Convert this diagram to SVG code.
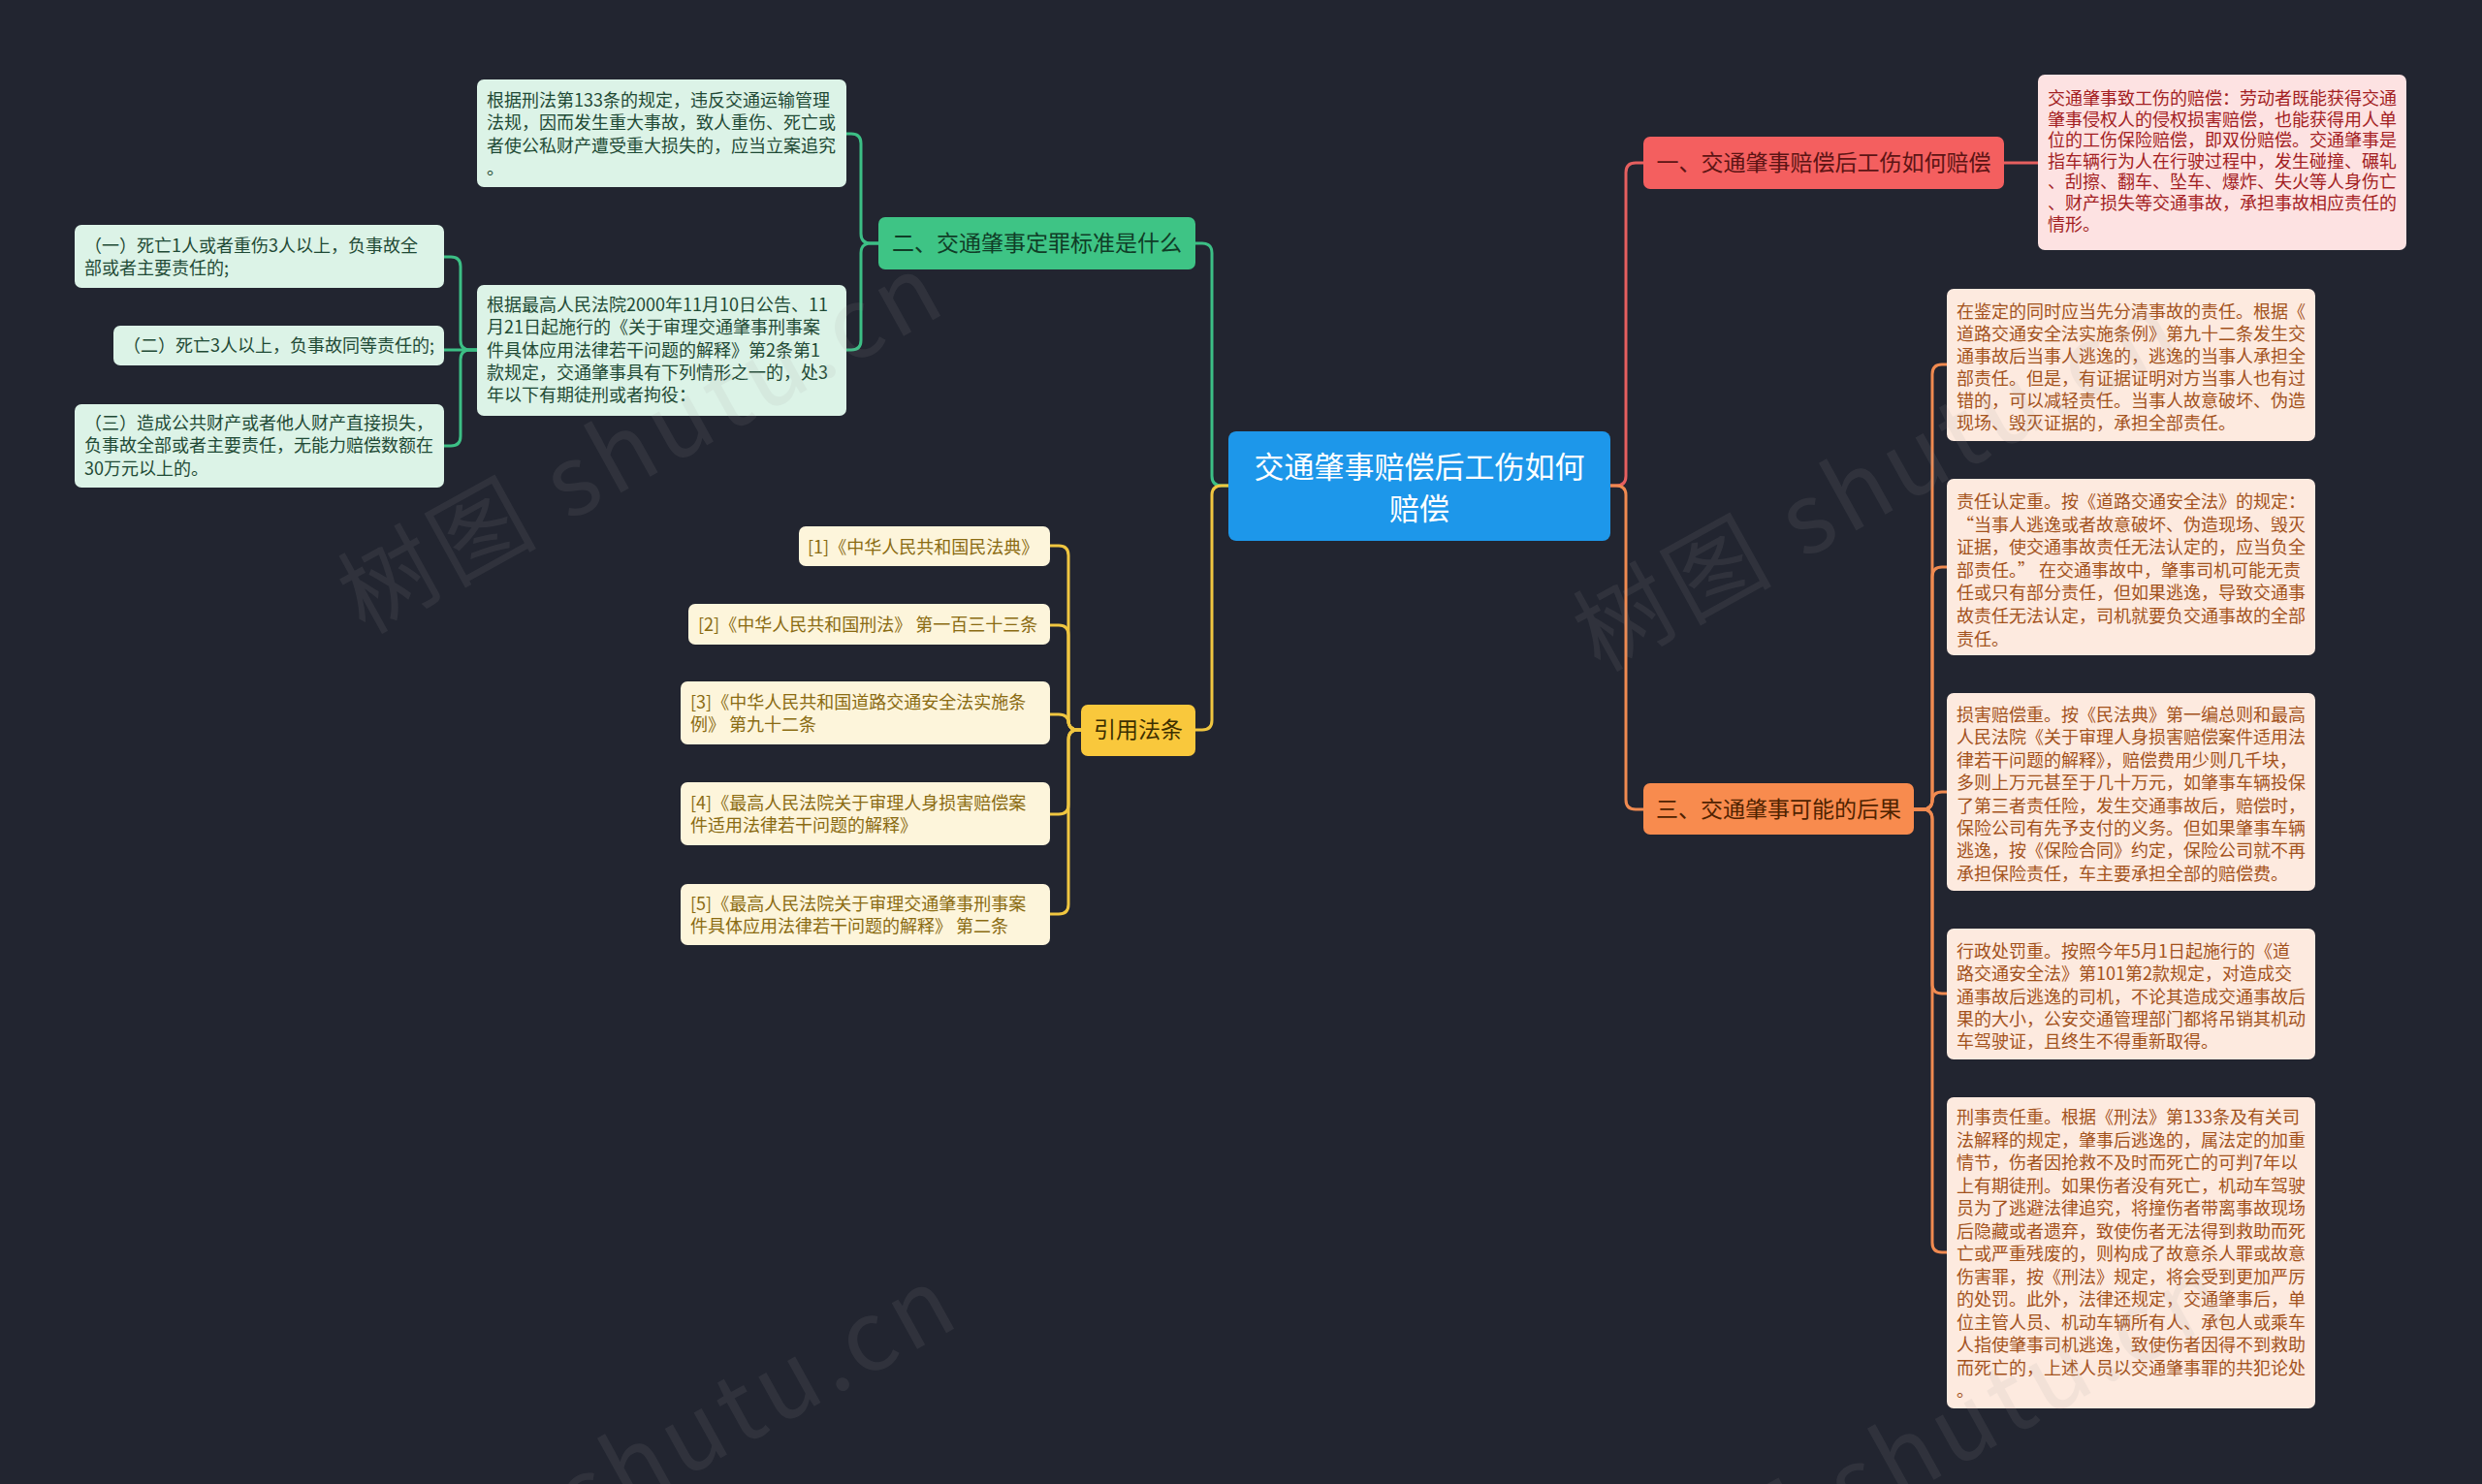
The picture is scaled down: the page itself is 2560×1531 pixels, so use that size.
<svg xmlns="http://www.w3.org/2000/svg" width="2560" height="1531" viewBox="0 0 2560 1531">
<style>
text{font-family:"Noto Sans CJK SC","Noto Sans",sans-serif;}
.c{fill:none;stroke-width:3;stroke-linecap:round;stroke-linejoin:round}
.cr{stroke:#e65f5f}.cg{stroke:#3cbf85}.cy{stroke:#f0c640}.co{stroke:#f08a50}
.t18{font-size:18px}
.gd{fill:#dcf3e7}.gt{fill:#1f4a35}
.yd{fill:#fdf5db}.yt{fill:#8a6b12}
.rd{fill:#fde2e2}.rt{fill:#a31e22}
.od{fill:#fdeadf}.ot{fill:#a3521c}
.wm{font-size:100px;letter-spacing:6px;fill:#a0a0a0;opacity:0.11}
</style>
<rect width="2560" height="1531" fill="#222530"/>
<g id="connectors">
<path class="c cg" d="M1267,501 H1260 Q1250,501 1250,491 V261 Q1250,251 1240,251 H1233"/>
<path class="c cy" d="M1267,501 H1260 Q1250,501 1250,511 V743 Q1250,753 1240,753 H1233"/>
<path class="c cr" d="M1661,501 H1667 Q1677,501 1677,491 V178 Q1677,168 1687,168 H1695"/>
<path class="c co" d="M1661,501 H1667 Q1677,501 1677,511 V825 Q1677,835 1687,835 H1695"/>
<path class="c cr" d="M2067,168 H2102"/>
<path class="c cg" d="M906,251 H898 Q888,251 888,241 V148 Q888,138 878,138 H873"/>
<path class="c cg" d="M906,251 H898 Q888,251 888,261 V351 Q888,361 878,361 H873"/>
<path class="c cg" d="M492,361 H485 Q475,361 475,351 V275 Q475,265 465,265 H458"/>
<path class="c cg" d="M492,361 H458"/>
<path class="c cg" d="M492,361 H485 Q475,361 475,371 V450 Q475,460 465,460 H458"/>
<path class="c cy" d="M1115,753 H1112 Q1102,753 1102,743 V573 Q1102,563 1092,563 H1083"/>
<path class="c cy" d="M1115,753 H1112 Q1102,753 1102,743 V655 Q1102,645 1092,645 H1083"/>
<path class="c cy" d="M1115,753 H1112 Q1102,753 1102,743 V746 Q1102,737 1092,737 H1083"/>
<path class="c cy" d="M1115,753 H1112 Q1102,753 1102,763 V830 Q1102,840 1092,840 H1083"/>
<path class="c cy" d="M1115,753 H1112 Q1102,753 1102,763 V933 Q1102,943 1092,943 H1083"/>
<path class="c co" d="M1974,835 H1983 Q1993,835 1993,825 V386 Q1993,376 2003,376 H2008"/>
<path class="c co" d="M1974,835 H1983 Q1993,835 1993,825 V595 Q1993,585 2003,585 H2008"/>
<path class="c co" d="M1974,835 H1983 Q1993,835 1993,825 V827 Q1993,817 2003,817 H2008"/>
<path class="c co" d="M1974,835 H1983 Q1993,835 1993,845 V1015 Q1993,1025 2003,1025 H2008"/>
<path class="c co" d="M1974,835 H1983 Q1993,835 1993,845 V1282 Q1993,1292 2003,1292 H2008"/>
</g>
<g id="root">
<rect x="1267" y="445" width="394" height="113" rx="8" fill="#1d97ea"/>
<text x="1464" y="493" font-size="31" fill="#ffffff" text-anchor="middle">交通肇事赔偿后工伤如何</text>
<text x="1464" y="536" font-size="31" fill="#ffffff" text-anchor="middle">赔偿</text>
</g>
<g id="n1">
<rect x="1695" y="141" width="372" height="54" rx="7" fill="#f45f5f"/>
<text x="1881" y="176" font-size="23" fill="#5c1414" text-anchor="middle">一、交通肇事赔偿后工伤如何赔偿</text>
</g>
<g id="n1a">
<rect x="2102" y="77" width="380" height="181" rx="7" class="rd"/>
<text class="t18 rt" x="2112" y="108">
<tspan x="2112">交通肇事致工伤的赔偿：劳动者既能获得交通</tspan>
<tspan x="2112" dy="21.6">肇事侵权人的侵权损害赔偿，也能获得用人单</tspan>
<tspan x="2112" dy="21.6">位的工伤保险赔偿，即双份赔偿。交通肇事是</tspan>
<tspan x="2112" dy="21.6">指车辆行为人在行驶过程中，发生碰撞、碾轧</tspan>
<tspan x="2112" dy="21.6">、刮擦、翻车、坠车、爆炸、失火等人身伤亡</tspan>
<tspan x="2112" dy="21.6">、财产损失等交通事故，承担事故相应责任的</tspan>
<tspan x="2112" dy="21.6">情形。</tspan>
</text>
</g>
<g id="n2">
<rect x="906" y="224" width="327" height="54" rx="7" fill="#3ec485"/>
<text x="1069.5" y="259" font-size="23" fill="#103d27" text-anchor="middle">二、交通肇事定罪标准是什么</text>
</g>
<g id="n2a">
<rect x="492" y="82" width="381" height="111" rx="7" class="gd"/>
<text class="t18 gt" x="502" y="110">
<tspan x="502">根据刑法第133条的规定，违反交通运输管理</tspan>
<tspan x="502" dy="23.3">法规，因而发生重大事故，致人重伤、死亡或</tspan>
<tspan x="502" dy="23.3">者使公私财产遭受重大损失的，应当立案追究</tspan>
<tspan x="502" dy="23.3">。</tspan>
</text>
</g>
<g id="n2b">
<rect x="492" y="294" width="381" height="135" rx="7" class="gd"/>
<text class="t18 gt" x="502" y="321">
<tspan x="502">根据最高人民法院2000年11月10日公告、11</tspan>
<tspan x="502" dy="23.3">月21日起施行的《关于审理交通肇事刑事案</tspan>
<tspan x="502" dy="23.3">件具体应用法律若干问题的解释》第2条第1</tspan>
<tspan x="502" dy="23.3">款规定，交通肇事具有下列情形之一的，处3</tspan>
<tspan x="502" dy="23.3">年以下有期徒刑或者拘役：</tspan>
</text>
</g>
<g id="n2b1">
<rect x="77" y="232" width="381" height="65" rx="7" class="gd"/>
<text class="t18 gt" x="87" y="260">
<tspan x="87">（一）死亡1人或者重伤3人以上，负事故全</tspan>
<tspan x="87" dy="23.3">部或者主要责任的;</tspan>
</text>
</g>
<g id="n2b2">
<rect x="117" y="336" width="341" height="41" rx="7" class="gd"/>
<text class="t18 gt" x="127" y="363">（二）死亡3人以上，负事故同等责任的;</text>
</g>
<g id="n2b3">
<rect x="77" y="417" width="381" height="86" rx="7" class="gd"/>
<text class="t18 gt" x="87" y="443">
<tspan x="87">（三）造成公共财产或者他人财产直接损失，</tspan>
<tspan x="87" dy="23.3">负事故全部或者主要责任，无能力赔偿数额在</tspan>
<tspan x="87" dy="23.3">30万元以上的。</tspan>
</text>
</g>
<g id="n3">
<rect x="1115" y="727" width="118" height="53" rx="7" fill="#f9c83c"/>
<text x="1174" y="761" font-size="23" fill="#3d2f00" text-anchor="middle">引用法条</text>
</g>
<g id="n3a">
<rect x="824" y="543" width="259" height="41" rx="7" class="yd"/>
<text class="t18 yt" x="833" y="571">[1]《中华人民共和国民法典》</text>
</g>
<g id="n3b">
<rect x="710" y="623" width="373" height="42" rx="7" class="yd"/>
<text class="t18 yt" x="720" y="651">[2]《中华人民共和国刑法》 第一百三十三条</text>
</g>
<g id="n3c">
<rect x="702" y="703" width="381" height="65" rx="7" class="yd"/>
<text class="t18 yt" x="712" y="731">
<tspan x="712">[3]《中华人民共和国道路交通安全法实施条</tspan>
<tspan x="712" dy="23.3">例》 第九十二条</tspan>
</text>
</g>
<g id="n3d">
<rect x="702" y="807" width="381" height="65" rx="7" class="yd"/>
<text class="t18 yt" x="712" y="835">
<tspan x="712">[4]《最高人民法院关于审理人身损害赔偿案</tspan>
<tspan x="712" dy="23.3">件适用法律若干问题的解释》</tspan>
</text>
</g>
<g id="n3e">
<rect x="702" y="912" width="381" height="63" rx="7" class="yd"/>
<text class="t18 yt" x="712" y="939">
<tspan x="712">[5]《最高人民法院关于审理交通肇事刑事案</tspan>
<tspan x="712" dy="23.3">件具体应用法律若干问题的解释》 第二条</tspan>
</text>
</g>
<g id="n4">
<rect x="1695" y="808" width="279" height="53" rx="7" fill="#f88b4e"/>
<text x="1834.5" y="843" font-size="23" fill="#4f2200" text-anchor="middle">三、交通肇事可能的后果</text>
</g>
<g id="n4a">
<rect x="2008" y="298" width="380" height="157" rx="7" class="od"/>
<text class="t18 ot" x="2018" y="328">
<tspan x="2018">在鉴定的同时应当先分清事故的责任。根据《</tspan>
<tspan x="2018" dy="23">道路交通安全法实施条例》第九十二条发生交</tspan>
<tspan x="2018" dy="23">通事故后当事人逃逸的，逃逸的当事人承担全</tspan>
<tspan x="2018" dy="23">部责任。但是，有证据证明对方当事人也有过</tspan>
<tspan x="2018" dy="23">错的，可以减轻责任。当事人故意破坏、伪造</tspan>
<tspan x="2018" dy="23">现场、毁灭证据的，承担全部责任。</tspan>
</text>
</g>
<g id="n4b">
<rect x="2008" y="494" width="380" height="182" rx="7" class="od"/>
<text class="t18 ot" x="2018" y="524">
<tspan x="2018">责任认定重。按《道路交通安全法》的规定：</tspan>
<tspan x="2018" dy="23.6">“当事人逃逸或者故意破坏、伪造现场、毁灭</tspan>
<tspan x="2018" dy="23.6">证据，使交通事故责任无法认定的，应当负全</tspan>
<tspan x="2018" dy="23.6">部责任。” 在交通事故中，肇事司机可能无责</tspan>
<tspan x="2018" dy="23.6">任或只有部分责任，但如果逃逸，导致交通事</tspan>
<tspan x="2018" dy="23.6">故责任无法认定，司机就要负交通事故的全部</tspan>
<tspan x="2018" dy="23.6">责任。</tspan>
</text>
</g>
<g id="n4c">
<rect x="2008" y="715" width="380" height="204" rx="7" class="od"/>
<text class="t18 ot" x="2018" y="744">
<tspan x="2018">损害赔偿重。按《民法典》第一编总则和最高</tspan>
<tspan x="2018" dy="23.4">人民法院《关于审理人身损害赔偿案件适用法</tspan>
<tspan x="2018" dy="23.4">律若干问题的解释》，赔偿费用少则几千块，</tspan>
<tspan x="2018" dy="23.4">多则上万元甚至于几十万元，如肇事车辆投保</tspan>
<tspan x="2018" dy="23.4">了第三者责任险，发生交通事故后，赔偿时，</tspan>
<tspan x="2018" dy="23.4">保险公司有先予支付的义务。但如果肇事车辆</tspan>
<tspan x="2018" dy="23.4">逃逸，按《保险合同》约定，保险公司就不再</tspan>
<tspan x="2018" dy="23.4">承担保险责任，车主要承担全部的赔偿费。</tspan>
</text>
</g>
<g id="n4d">
<rect x="2008" y="958" width="380" height="135" rx="7" class="od"/>
<text class="t18 ot" x="2018" y="988">
<tspan x="2018">行政处罚重。按照今年5月1日起施行的《道</tspan>
<tspan x="2018" dy="23.3">路交通安全法》第101第2款规定，对造成交</tspan>
<tspan x="2018" dy="23.3">通事故后逃逸的司机，不论其造成交通事故后</tspan>
<tspan x="2018" dy="23.3">果的大小，公安交通管理部门都将吊销其机动</tspan>
<tspan x="2018" dy="23.3">车驾驶证，且终生不得重新取得。</tspan>
</text>
</g>
<g id="n4e">
<rect x="2008" y="1132" width="380" height="321" rx="7" class="od"/>
<text class="t18 ot" x="2018" y="1159">
<tspan x="2018">刑事责任重。根据《刑法》第133条及有关司</tspan>
<tspan x="2018" dy="23.5">法解释的规定，肇事后逃逸的，属法定的加重</tspan>
<tspan x="2018" dy="23.5">情节，伤者因抢救不及时而死亡的可判7年以</tspan>
<tspan x="2018" dy="23.5">上有期徒刑。如果伤者没有死亡，机动车驾驶</tspan>
<tspan x="2018" dy="23.5">员为了逃避法律追究，将撞伤者带离事故现场</tspan>
<tspan x="2018" dy="23.5">后隐藏或者遗弃，致使伤者无法得到救助而死</tspan>
<tspan x="2018" dy="23.5">亡或严重残废的，则构成了故意杀人罪或故意</tspan>
<tspan x="2018" dy="23.5">伤害罪，按《刑法》规定，将会受到更加严厉</tspan>
<tspan x="2018" dy="23.5">的处罚。此外，法律还规定，交通肇事后，单</tspan>
<tspan x="2018" dy="23.5">位主管人员、机动车辆所有人、承包人或乘车</tspan>
<tspan x="2018" dy="23.5">人指使肇事司机逃逸，致使伤者因得不到救助</tspan>
<tspan x="2018" dy="23.5">而死亡的，上述人员以交通肇事罪的共犯论处</tspan>
<tspan x="2018" dy="23.5">。</tspan>
</text>
</g>
<g id="watermark">
<text class="wm" x="376" y="655" transform="rotate(-29 376 655)">树图 shutu.cn</text>
<text class="wm" x="1650" y="694" transform="rotate(-29 1650 694)">树图 shutu.cn</text>
<text class="wm" x="390" y="1700" transform="rotate(-29 390 1700)">树图 shutu.cn</text>
<text class="wm" x="1700" y="1690" transform="rotate(-29 1700 1690)">树图 shutu.cn</text>
</g>
</svg>
